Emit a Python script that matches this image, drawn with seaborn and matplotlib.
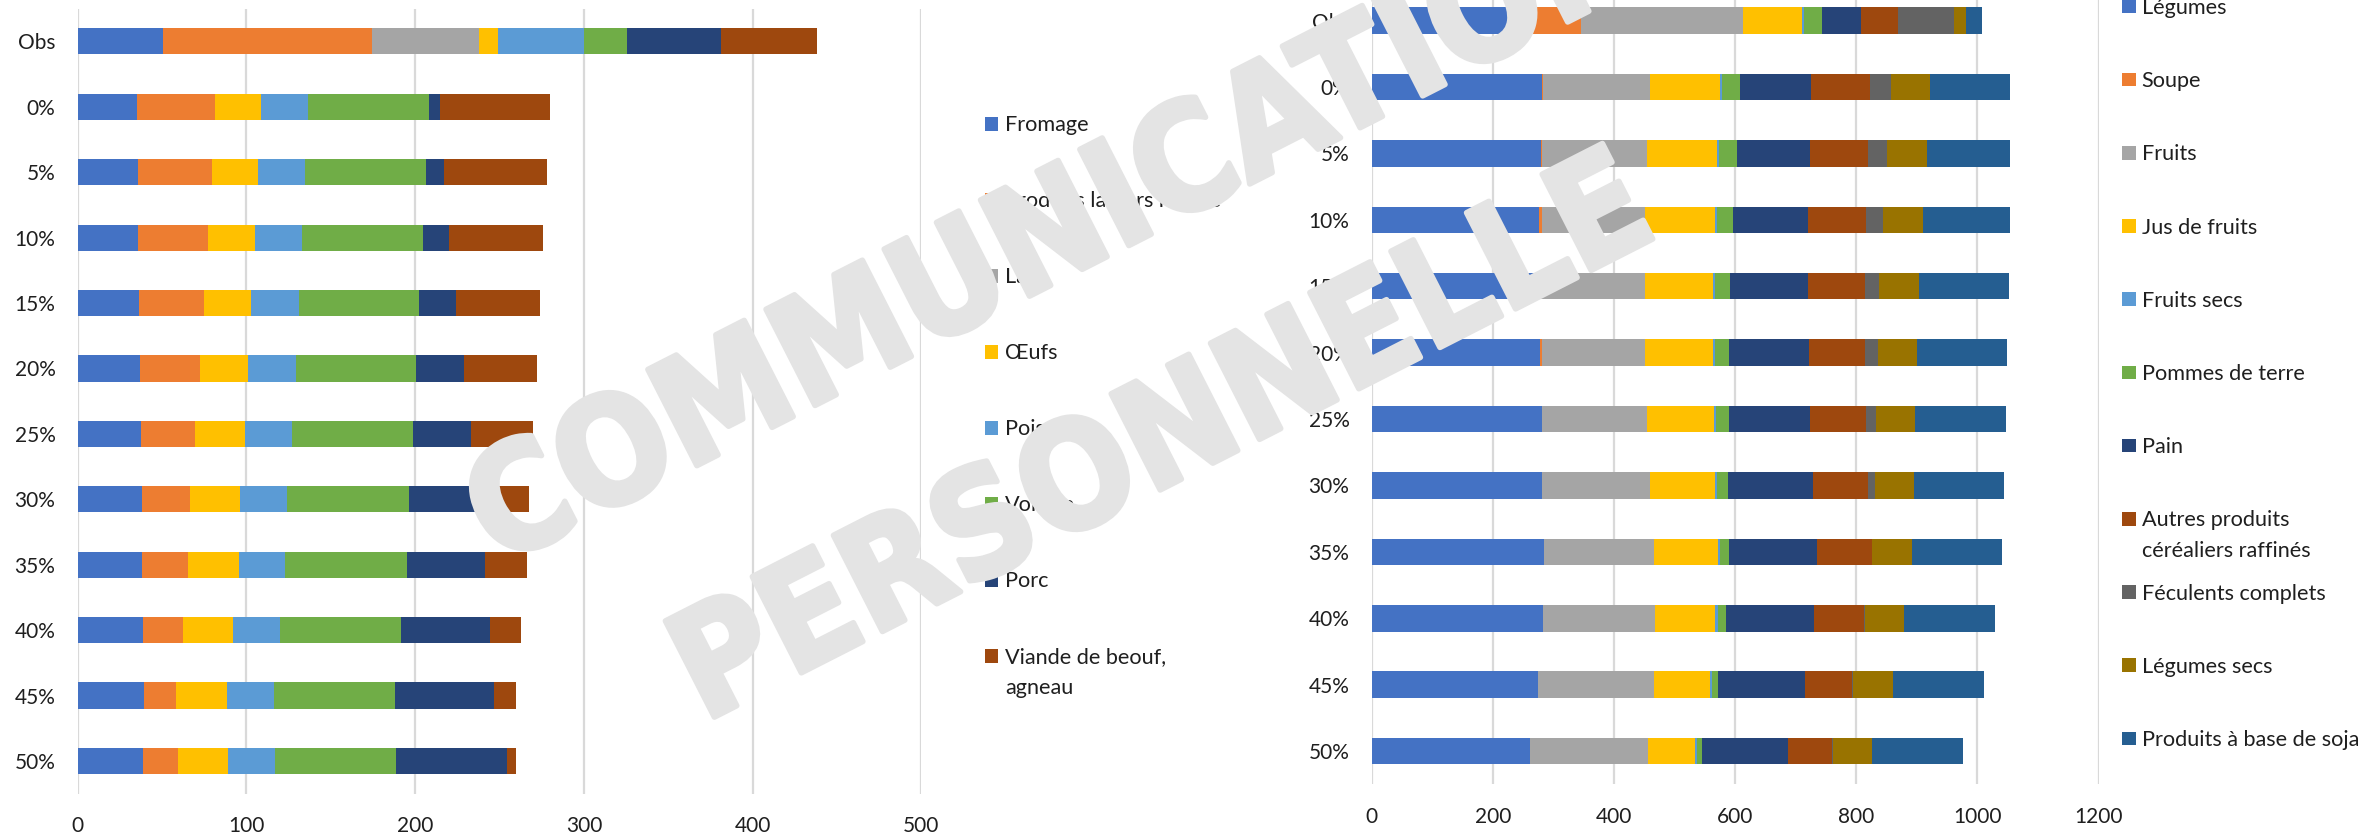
import os
import numpy as np
import matplotlib
matplotlib.use("Agg")
import matplotlib.pyplot as plt
from matplotlib.patches import Rectangle
from matplotlib import font_manager, patheffects
from matplotlib.font_manager import FontProperties
import seaborn as sns

# ---------------------------------------------------------------- data
scenarios = ["Obs", "0%", "5%", "10%", "15%", "20%", "25%", "30%", "35%", "40%", "45%", "50%"]

# Animal products (g/day)
animal_names = ["Fromage", "Produits laitiers nature", "Lait", "Œufs", "Poisson",
                "Volaille", "Porc", "Viande de beouf,\nagneau"]
fromage = [50.6, 35.0, 35.5, 36.0, 36.3, 36.8, 37.4, 37.9, 38.1, 38.9, 39.5, 38.5]
produits_laitiers = [123.7, 46.3, 44.0, 41.1, 38.4, 35.8, 32.3, 28.9, 27.1, 23.4, 18.9, 20.9]
lait = [63.3, 0, 0, 0, 0, 0, 0, 0, 0, 0, 0, 0]
oeufs = [11.4, 27.6, 27.5, 27.8, 28.1, 28.6, 29.4, 29.6, 30.2, 29.9, 29.9, 29.9]
poisson = [51.0, 27.8, 27.8, 28.1, 28.1, 28.1, 27.8, 27.8, 27.5, 27.8, 27.8, 27.8]
volaille = [25.5, 71.6, 71.7, 71.7, 71.6, 71.4, 71.6, 72.0, 72.1, 71.8, 72.1, 71.8]
porc = [55.5, 6.4, 10.5, 15.3, 21.7, 28.4, 34.3, 40.3, 46.4, 52.7, 58.7, 65.6]
viande = [57.3, 65.3, 61.1, 56.0, 49.9, 43.1, 37.0, 31.1, 24.9, 18.3, 12.7, 5.5]

# Plant products (g/day)
plant_names = ["Légumes", "Soupe", "Fruits", "Jus de fruits", "Fruits secs", "Pommes de terre",
               "Pain", "Autres produits\ncéréaliers raffinés", "Féculents complets",
               "Légumes secs", "Produits à base de soja"]
legumes = [250.0, 280.6, 279.0, 276.9, 275.4, 278.4, 280.6, 282.0, 285.0, 283.5, 275.4, 260.7]
soupe = [96.0, 2.2, 2.3, 3.7, 2.2, 2.2, 1.0, 0, 0, 0, 0, 0]
fruits = [267.4, 176.7, 173.7, 171.5, 173.1, 171.5, 173.4, 177.5, 181.9, 184.8, 190.7, 195.9]
jus_de_fruits = [96.5, 114.9, 115.0, 114.2, 112.6, 111.2, 109.8, 107.5, 104.5, 98.7, 92.8, 78.0]
fruits_secs = [3.7, 3.6, 3.6, 3.7, 3.0, 3.0, 3.7, 3.7, 3.7, 4.4, 3.0, 2.2]
pommes_de_terre = [29.4, 30.2, 29.4, 26.5, 25.7, 24.3, 21.3, 18.3, 14.7, 13.3, 10.3, 8.1]
pain = [64.0, 117.8, 120.9, 124.4, 129.0, 131.8, 134.1, 140.0, 145.8, 145.8, 143.6, 142.9]
autres_cereales = [62.7, 97.3, 95.7, 95.7, 92.7, 92.8, 92.7, 90.6, 89.9, 81.7, 77.3, 71.4]
feculents_complets = [92.0, 34.6, 31.7, 28.0, 24.3, 21.3, 16.2, 11.0, 0.7, 2.2, 2.2, 2.2]
legumes_secs = [19.9, 64.0, 64.7, 64.8, 64.8, 64.1, 64.8, 64.1, 65.6, 64.8, 64.8, 64.1]
soja = [26.4, 132.6, 137.8, 143.6, 148.7, 148.7, 148.8, 149.5, 149.4, 150.3, 150.2, 150.9]

animal_values = [fromage, produits_laitiers, lait, oeufs, poisson, volaille, porc, viande]
plant_values = [legumes, soupe, fruits, jus_de_fruits, fruits_secs, pommes_de_terre, pain,
                autres_cereales, feculents_complets, legumes_secs, soja]

office = ["#4472C4", "#ED7D31", "#A5A5A5", "#FFC000", "#5B9BD5", "#70AD47",
          "#264478", "#9E480E", "#636363", "#997300", "#255E91"]

watermark_lines = ["COMMUNICATION", "PERSONNELLE"]

# ---------------------------------------------------------------- style
sns.set_style("white")
plt.rcParams["font.family"] = ["Lato", "DejaVu Sans"]
TXT = "#1f1f1f"
GRID = "#D9D9D9"
WM = "#E4E4E4"
FS = 15
FS_LEG = 15.6

W, H = 2376, 836
fig = plt.figure(figsize=(W / 100, H / 100), dpi=100)


def fx(x):
    return x / W


def fy(y):
    return 1 - y / H


def add_axes_px(left, right, top, bottom):
    return fig.add_axes([fx(left), fy(bottom), fx(right - left), (bottom - top) / H])


def stacked(ax, values, colors, xmax, step):
    cum = np.cumsum(np.array(values, dtype=float), axis=0)
    # longest cumulative first, each shorter bar drawn on top of it
    for i in range(len(values) - 1, -1, -1):
        sns.barplot(x=cum[i], y=scenarios, order=scenarios, orient="h",
                    color=colors[i], saturation=1, width=0.4, linewidth=0,
                    errorbar=None, ax=ax)
    ax.set_xlim(0, xmax)
    ax.set_xticks(np.arange(0, xmax + 1, step))
    ax.set_xlabel("")
    ax.set_ylabel("")
    ax.grid(axis="x", color=GRID, linewidth=1.6)
    ax.grid(axis="y", visible=False)
    ax.set_axisbelow(True)
    for s in ax.spines.values():
        s.set_visible(False)
    ax.tick_params(axis="y", length=0, pad=16, labelsize=FS, labelcolor=TXT)
    ax.tick_params(axis="x", length=0, pad=16, labelsize=FS, labelcolor=TXT)


def legend_px(names, colors, mx, tx, y0, step, msize=13.7):
    for i, (name, col) in enumerate(zip(names, colors)):
        yc = y0 + i * step
        fig.add_artist(Rectangle((fx(mx), fy(yc + msize / 2)), msize / W, msize / H,
                                 transform=fig.transFigure, facecolor=col,
                                 edgecolor="none", zorder=2))
        for j, line in enumerate(name.split("\n")):
            fig.text(fx(tx), fy(yc + 7.6 + j * 30.5), line, ha="left", va="baseline",
                     fontsize=FS_LEG, color=TXT, zorder=2)


ax1 = add_axes_px(77.7, 921.4, 8.6, 793.7)
stacked(ax1, animal_values, office[:8], 500, 100)

ax2 = add_axes_px(1371.6, 2098.6, -12.7, 784.4)
stacked(ax2, plant_values, office, 1200, 200)

legend_px(animal_names, office[:8], 984.8, 1005, 123.7, 76.0)
legend_px(plant_names, office, 2122, 2141.7, 6.4, 73.2)


# ---------------------------------------------------------------- watermark
def condensed_bold_font():
    """Return a narrow/condensed bold sans face if one is installed."""
    best, best_rank = None, 99
    for f in font_manager.fontManager.ttflist:
        base = os.path.basename(f.fname).lower()
        tag = (f.name + " " + base).lower()
        narrow = ("narrow" in tag or "condensed" in tag
                  or str(f.stretch).lower() in ("condensed", "semi-condensed",
                                                 "extra-condensed", "ultra-condensed"))
        w = f.weight if isinstance(f.weight, int) else (700 if "bold" in str(f.weight) else 400)
        if not narrow or w < 700 or "italic" in tag or "oblique" in tag:
            continue
        if any(k in tag for k in ("mono", "serif", "extrabold", "black", "extracondensed",
                                  "extra-condensed", "ultra")) and "sans" not in tag.split("serif")[0]:
            continue
        if "liberation" in tag:
            rank = 0
        elif "noto" in tag and "sans" in tag:
            rank = 1
        elif "dejavu" in tag:
            rank = 2
        else:
            rank = 3
        if rank < best_rank:
            best, best_rank = f.fname, rank
    return best


path = condensed_bold_font()
if path:
    wm_fp = FontProperties(fname=path)
    target_w = 1300
else:
    wm_fp = FontProperties(family="Liberation Sans", weight="bold")
    target_w = 1420

renderer = fig.canvas.get_renderer()
angle = 27.0
sep = 232.0
cx, cy = 1104.0, 325.0
nx, ny = np.sin(np.radians(angle)), np.cos(np.radians(angle))
wm_texts = []
for k, line in enumerate(watermark_lines):
    off = (k - 0.5) * sep
    t = fig.text(fx(cx + off * nx), fy(cy + off * ny), line, fontproperties=wm_fp,
                 fontsize=100, ha="center", va="center_baseline", rotation=0,
                 rotation_mode="anchor", color=WM, zorder=10)
    wm_texts.append(t)
scale = target_w / wm_texts[0].get_window_extent(renderer).width
for t in wm_texts:
    t.set_fontsize(100 * scale)
    t.set_rotation(angle)
    t.set_path_effects([patheffects.withStroke(linewidth=4, foreground=WM)])

fig.savefig("out.png", dpi=100)
